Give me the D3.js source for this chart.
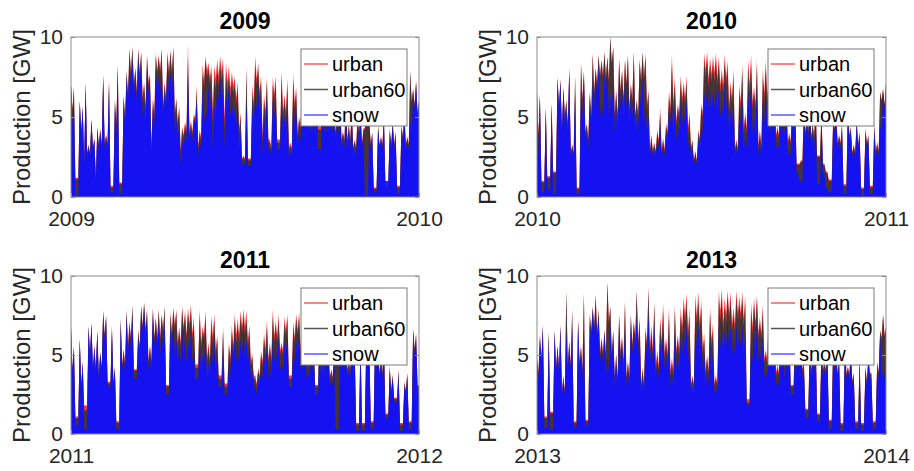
<!DOCTYPE html>
<html lang="en">
<head>
<meta charset="utf-8">
<title>Production per year</title>
<script src="https://d3js.org/d3.v7.min.js"></script>
<style>
  body { margin: 0; background: #fff; }
  svg text { font-family: Arial, "Liberation Sans", Helvetica, sans-serif; }
</style>
</head>
<body>
<script>
// values, ~3 days per value, GW
// peaks per series, plus the bottom of the gaps between the snow peaks for each year
var yTicks = [0, 5, 10];
var seriesNames = ["urban", "urban60", "snow"];

var urban09 = [7.0,6.9,1.2,6.0,5.7,7.1,3.3,4.9,3.7,4.4, 4.3,7.7,3.9,7.3,0.7,6.1,8.3,0.9,6.4,7.9,
  9.3,9.4,8.1,9.3,9.1,7.2,8.9,7.7,6.2,9.0, 8.9,9.3,7.2,9.1,9.2,9.4,6.2,5.7,4.4,4.7,
  9.6,4.8,5.2,7.0,4.2,8.3,8.8,8.4,8.2,8.2, 8.6,8.8,8.7,8.4,8.2,7.8,7.5,7.2,5.3,2.6,
  8.2,2.4,7.0,8.8,8.4,7.6,6.4,7.5,3.6,7.5, 7.6,3.6,7.9,6.4,7.4,3.4,7.7,6.9,5.0,7.4,
  6.8,7.3,5.4,7.3,6.0,4.4,7.1,5.7,7.0,6.3, 5.6,5.1,6.6,4.1,6.1,4.6,5.6,3.6,5.1,5.6,
  4.3,6.1,4.8,4.1,0.6,4.5,3.8,5.1,0.7,4.3, 4.8,4.1,0.7,4.5,5.3,3.8,7.9,6.8,7.3,6.1];
var urban60_09 = [7.0,6.8,1.1,6.0,5.6,7.1,3.2,4.8,3.6,4.3, 4.2,7.6,3.8,7.2,0.6,6.0,8.2,0.8,6.3,7.8,
  9.2,9.3,8.0,9.2,9.0,7.0,8.7,7.5,6.0,8.8, 8.7,9.2,7.0,8.9,9.0,9.3,6.0,5.5,4.2,4.5,
  8.8,4.6,5.0,6.6,4.0,7.8,8.6,8.0,7.8,7.5, 8.0,8.3,8.1,7.8,7.5,7.2,7.0,6.8,5.0,2.5,
  7.8,2.3,6.5,8.2,8.0,7.2,6.0,7.2,3.4,7.0, 7.2,3.4,7.5,6.0,7.0,3.2,7.3,6.5,4.8,7.0,
  6.5,7.0,5.2,7.0,5.8,4.2,6.8,5.5,6.8,6.0, 5.5,5.0,6.5,4.0,6.0,4.5,5.5,3.5,5.0,5.5,
  4.2,6.0,4.7,4.0,0.5,4.4,3.7,5.0,0.6,4.2, 4.7,4.0,0.6,4.4,5.2,3.7,7.8,6.7,7.2,6.0];
var snow09 = [7.0,5.9,0.1,6.0,5.6,7.1,3.0,4.8,3.6,4.3, 4.0,7.4,3.5,7.0,0.3,5.5,8.0,0.2,6.0,7.5,
  8.5,8.6,7.5,8.7,8.3,6.0,8.0,7.0,5.5,8.0, 7.5,8.0,6.5,8.3,7.8,8.0,5.0,4.5,3.5,4.0,
  7.7,4.2,4.8,6.0,3.5,6.8,5.5,7.0,6.2,5.8, 7.0,7.5,6.8,6.5,7.0,6.0,5.5,5.8,4.0,2.2,
  6.0,2.0,5.5,6.5,7.0,6.0,5.0,6.2,3.0,6.0, 6.0,3.0,6.5,5.0,5.8,2.8,6.2,5.5,4.0,6.0,
  5.5,6.0,4.5,6.2,5.0,3.0,5.8,4.8,6.0,5.0, 5.0,4.5,6.0,3.5,5.5,4.0,5.0,3.0,4.5,5.0,
  4.0,0.1,4.5,3.8,0.3,4.2,3.5,4.8,1.0,4.0, 4.5,3.8,0.2,4.2,5.0,3.5,4.8,6.5,7.0,5.8];
var gaps09 = [4.5,0.1,0.1,4.0,2.0,2.5,2.5,3.0,1.0,3.0, 3.0,3.0,3.0,0.3,0.3,4.0,0.2,0.2,4.5,6.0,
  7.0,6.5,6.0,7.0,5.0,4.5,6.5,2.5,4.5,6.5, 6.5,5.0,5.5,6.5,6.5,4.0,3.5,2.0,3.0,3.5,
  3.5,3.5,4.5,2.5,3.0,4.5,5.0,5.5,3.0,5.0, 6.0,6.0,3.0,5.5,5.0,5.0,4.5,3.0,2.0,2.0,
  2.0,2.0,4.5,5.5,5.0,2.5,4.0,3.0,2.5,5.0, 3.0,3.0,4.0,4.0,2.5,2.5,4.5,3.0,3.5,4.5,
  4.5,4.0,4.0,4.5,3.0,3.0,4.0,4.0,4.0,4.0, 3.5,4.0,3.0,3.0,3.0,3.0,2.5,2.5,3.5,3.0,
  0.1,0.1,3.0,0.3,0.3,3.0,3.0,1.0,1.0,3.0, 3.0,0.2,0.2,3.5,3.0,3.0,4.0,5.5,5.0,5.0];

var urban10 = [6.7,6.4,1.0,5.6,1.3,5.9,1.6,7.5,7.4,6.9, 6.1,8.1,3.3,7.6,0.6,8.4,7.9,4.6,6.6,9.0,
  8.1,8.9,8.6,9.1,8.8,10.0,9.4,6.7,8.7,8.0, 8.6,8.9,7.1,9.1,6.1,8.6,9.1,9.0,6.7,3.9,
  3.4,4.2,5.6,3.7,4.6,6.6,8.9,7.5,5.8,7.6, 7.2,7.6,5.3,3.6,2.9,4.2,5.8,9.0,9.1,8.7,
  8.8,9.0,8.8,8.0,8.9,8.5,7.2,8.0,3.6,7.0, 8.3,5.3,8.6,8.9,6.9,8.6,4.2,8.0,8.5,7.4,
  6.8,7.3,4.4,7.1,5.4,7.3,4.0,6.2,6.4,2.1, 2.3,5.6,5.1,6.6,4.6,5.9,2.6,5.3,2.1,1.6,
  1.1,5.1,5.4,3.9,4.6,0.8,5.6,4.4,3.3,4.9, 4.1,0.6,4.3,3.9,0.7,4.6,3.4,6.6,6.8,7.2];
var urban60_10 = [6.6,6.3,0.9,5.5,1.2,5.8,1.5,7.4,7.3,6.8, 6.0,8.0,3.2,7.5,0.5,8.3,7.8,4.5,6.5,8.9,
  8.0,8.8,8.5,9.0,8.7,10.0,9.3,6.5,8.5,7.8, 8.5,8.8,7.0,9.0,6.0,8.5,9.0,8.8,6.5,3.8,
  3.3,4.0,5.2,3.5,4.4,6.2,8.3,7.0,5.5,7.2, 6.8,7.2,5.0,3.5,2.8,4.0,5.5,8.5,8.6,8.2,
  8.2,8.5,8.3,7.5,8.4,8.0,6.8,7.5,3.4,6.5, 7.8,5.0,8.0,8.3,6.5,8.2,4.0,7.5,8.0,7.0,
  6.5,7.0,4.2,6.8,5.2,7.0,3.8,6.0,6.2,2.0, 2.2,5.5,5.0,6.5,4.5,5.8,2.5,5.2,2.0,1.5,
  1.0,5.0,5.3,3.8,4.5,0.7,5.5,4.3,3.2,4.8, 4.0,0.5,4.2,3.8,0.6,4.5,3.3,6.5,6.7,7.1];
var snow10 = [5.0,6.3,0.3,5.5,0.5,5.8,0.2,7.4,7.2,6.8, 5.5,7.8,3.0,6.5,0.2,6.8,7.5,4.0,6.0,7.0,
  7.5,8.3,6.0,7.8,8.0,6.5,7.0,5.5,7.5,6.8, 7.0,7.5,6.0,7.2,5.0,6.8,7.4,6.0,5.0,3.5,
  3.0,3.6,4.5,3.2,4.0,5.5,6.0,5.5,4.5,6.0, 5.5,6.0,4.0,3.0,2.6,3.5,4.5,6.5,7.0,6.8,
  6.5,7.0,6.8,6.0,7.0,6.5,5.5,6.0,3.0,5.5, 6.0,4.0,6.5,7.0,5.0,6.8,3.5,6.0,6.5,5.5,
  5.5,6.0,3.5,5.8,4.5,6.0,3.0,5.0,5.5,1.5, 1.0,5.0,4.5,6.0,3.8,5.2,0.8,4.8,1.5,0.6,
  0.3,4.8,5.0,3.5,4.2,0.2,5.2,4.0,3.0,4.5, 3.8,0.1,4.0,3.5,0.2,4.2,3.0,4.5,6.5,7.0];
var gaps10 = [2.5,0.3,0.3,0.5,0.5,0.2,0.2,5.5,4.0,4.5, 4.0,2.5,2.5,0.2,0.2,5.0,3.5,3.0,4.5,5.5,
  6.5,5.0,5.0,6.5,5.0,5.5,4.0,4.0,5.5,5.0, 5.5,4.5,5.0,4.0,4.0,5.5,4.5,4.0,2.5,2.5,
  2.5,3.0,2.5,2.5,3.5,4.5,4.0,3.5,4.0,4.5, 4.5,3.0,2.5,2.0,2.0,3.0,4.0,5.5,5.5,5.5,
  5.5,5.5,5.0,5.0,5.5,4.0,4.5,2.5,2.5,4.5, 3.0,3.0,5.0,4.0,4.0,2.5,2.5,4.5,4.5,4.0,
  4.5,3.0,3.0,4.0,4.0,2.5,2.5,4.0,1.5,1.0, 1.0,3.5,3.5,3.0,3.0,0.8,0.8,1.5,0.6,0.3,
  0.3,4.0,3.0,3.0,0.2,0.2,3.5,2.5,2.5,3.0, 0.1,0.1,3.0,0.2,0.2,2.5,2.5,4.0,5.5,5.5];

var urban11 = [6.8,5.5,1.1,6.0,4.6,1.8,6.8,7.0,5.6,6.5, 5.2,7.8,7.5,3.3,6.8,4.3,0.8,7.3,5.4,7.8,
  7.1,8.1,4.1,6.6,8.1,8.3,7.9,5.6,8.0,7.4, 7.9,7.6,8.1,3.1,7.7,8.0,7.9,6.8,8.1,7.8,
  8.0,8.2,7.4,4.4,7.9,6.8,7.8,5.8,7.5,7.6, 6.3,3.7,6.8,3.2,5.8,6.9,7.6,7.3,7.8,7.9,
  7.8,6.9,5.1,3.7,4.2,5.3,6.4,7.2,5.8,7.9, 7.2,7.6,5.8,7.4,7.6,3.7,7.1,7.6,7.7,6.5,
  6.8,5.0,7.3,6.0,3.1,7.1,5.4,7.3,6.0,4.1, 5.6,4.9,6.1,5.3,6.3,4.6,6.6,5.5,0.7,6.1,
  0.7,6.1,5.9,0.8,6.3,5.4,4.9,5.9,1.3,4.3, 3.8,2.3,4.1,0.7,3.3,3.9,0.8,6.7,6.4,3.1];
var urban60_11 = [6.8,5.5,1.0,6.0,4.5,1.5,6.8,7.0,5.5,6.5, 5.2,7.8,7.5,3.2,6.8,4.2,0.7,7.3,5.3,7.8,
  7.0,8.1,4.0,6.5,8.1,8.3,7.8,5.5,7.9,7.3, 7.8,7.5,8.0,3.0,7.6,7.9,7.7,6.5,7.9,7.5,
  7.6,7.8,7.0,4.2,7.5,6.5,7.4,5.5,7.0,7.2, 6.0,3.5,6.5,3.0,5.5,6.5,7.2,6.8,7.4,7.4,
  7.3,6.5,4.8,3.5,4.0,5.0,6.0,6.8,5.5,7.4, 6.8,7.2,5.5,7.0,7.3,3.5,6.8,7.3,7.4,6.2,
  6.5,4.8,7.0,5.8,3.0,6.8,5.2,7.0,5.8,4.0, 5.5,4.8,6.0,5.2,6.2,4.5,6.5,5.4,0.6,6.0,
  0.6,6.0,5.8,0.7,6.2,5.3,4.8,5.8,1.2,4.2, 3.7,2.2,4.0,0.6,3.2,3.8,0.7,6.6,6.3,3.0];
var snow11 = [6.8,5.5,0.5,6.0,4.5,0.3,6.8,7.0,5.5,6.5, 5.0,7.5,7.3,3.0,6.5,4.0,0.3,7.0,5.0,7.5,
  6.5,7.6,3.5,6.0,7.8,8.0,7.2,5.0,7.5,6.8, 7.0,6.5,7.2,2.5,6.8,7.0,6.0,5.5,6.8,6.0,
  6.0,6.5,5.5,3.5,6.0,5.0,6.2,4.5,5.8,6.0, 5.0,3.0,5.5,2.5,4.5,5.8,6.2,5.5,6.0,6.5,
  6.0,5.5,4.0,3.0,3.5,4.2,5.0,5.5,4.5,6.0, 5.5,6.0,4.5,5.8,6.2,3.0,5.5,6.0,6.2,5.0,
  5.5,4.0,6.0,5.0,2.5,5.8,4.5,6.0,5.0,3.5, 5.0,0.3,5.5,4.8,5.8,4.0,6.0,5.0,0.2,5.5,
  0.2,5.8,5.5,0.3,6.0,5.0,4.5,5.5,1.0,4.0, 3.5,2.0,3.8,0.2,3.0,3.6,0.3,6.5,6.0,2.5];
var gaps11 = [4.0,0.5,0.5,3.0,0.3,0.3,5.0,4.0,4.0,3.5, 4.0,6.0,3.0,3.0,3.0,0.3,0.3,4.0,4.0,5.0,
  5.5,3.5,3.5,5.0,6.5,6.0,4.0,4.0,5.5,5.5, 5.0,5.5,2.5,2.5,5.5,5.0,4.5,4.5,5.0,4.5,
  5.0,4.5,3.5,3.5,4.0,4.5,3.5,3.5,4.5,4.0, 3.0,3.0,2.5,2.5,3.5,4.5,4.5,4.5,5.0,5.0,
  4.5,3.5,3.0,2.5,3.0,3.5,4.0,3.5,3.5,4.5, 4.5,4.0,4.0,5.0,3.0,3.0,4.5,5.0,4.0,4.0,
  3.5,3.5,4.0,2.5,2.5,3.5,3.5,4.0,3.0,3.0, 0.3,0.3,4.0,4.0,3.5,3.5,4.0,0.2,0.2,0.2,
  0.2,4.5,0.3,0.3,4.0,3.5,3.5,1.0,1.0,2.5, 2.0,2.0,0.2,0.2,2.5,0.3,0.3,5.0,2.5,2.5];

var urban13 = [4.9,6.3,6.9,1.1,6.5,1.4,6.6,5.6,6.9,3.7, 9.0,5.9,7.9,0.8,7.3,5.6,8.9,0.9,7.6,8.1,
  8.8,7.9,6.1,6.6,9.6,8.1,6.6,5.1,7.6,6.2, 8.4,4.6,7.6,7.2,9.0,7.4,4.2,6.8,9.2,6.9,
  8.4,5.3,7.4,8.3,6.1,8.0,4.8,8.2,6.3,8.0, 8.6,8.9,8.0,3.7,8.8,9.0,8.5,6.4,5.0,8.0,
  7.0,3.7,9.1,9.2,8.6,9.1,9.0,8.0,9.1,8.7, 9.0,8.8,2.2,8.3,8.6,8.8,7.4,8.2,5.3,7.9,
  7.3,6.8,4.4,7.3,6.2,5.7,7.5,3.1,6.8,6.2, 6.1,4.6,1.6,5.6,5.1,6.3,1.3,5.6,4.6,5.7,
  0.9,5.9,5.3,4.9,0.7,6.1,4.3,5.4,3.9,0.8, 4.9,0.7,4.3,5.1,3.9,0.8,4.6,6.6,7.6,6.8];
var urban60_13 = [4.8,6.2,6.8,1.0,6.4,1.3,6.5,5.5,6.8,3.6, 9.0,5.8,7.8,0.7,7.2,5.5,8.9,0.8,7.5,8.0,
  8.8,7.8,6.0,6.5,9.6,8.0,6.5,5.0,7.5,6.0, 8.3,4.5,7.5,7.0,9.0,7.2,4.0,6.5,9.2,6.5,
  8.0,5.0,7.0,7.8,5.8,7.5,4.5,7.8,6.0,7.5, 8.0,8.3,7.5,3.5,8.2,8.4,8.0,6.0,4.8,7.5,
  6.5,3.5,8.5,8.6,8.0,8.7,8.5,7.5,8.6,8.2, 8.5,8.3,2.0,7.8,8.2,8.5,7.0,7.8,5.0,7.5,
  7.0,6.5,4.2,7.0,6.0,5.5,7.2,3.0,6.5,6.0, 6.0,4.5,1.5,5.5,5.0,6.2,1.2,5.5,4.5,5.6,
  0.8,5.8,5.2,4.8,0.6,6.0,4.2,5.3,3.8,0.7, 4.8,0.6,4.2,5.0,3.8,0.7,4.5,6.5,7.5,6.7];
var snow13 = [4.5,6.0,6.8,0.4,6.3,0.3,6.5,5.5,6.8,3.5, 6.5,5.5,6.8,0.4,7.0,5.0,6.5,0.5,7.0,7.8,
  7.8,7.5,5.5,6.5,5.0,7.0,6.0,4.5,6.8,5.5, 6.5,4.0,7.0,6.5,7.3,6.5,3.5,6.0,7.5,6.0,
  6.8,4.5,6.0,6.5,5.0,6.0,3.8,6.5,5.0,6.2, 6.5,7.0,6.0,3.0,6.8,7.0,6.5,5.0,4.0,6.0,
  5.0,3.0,6.8,7.0,6.5,7.2,6.8,6.0,7.0,6.5, 6.8,6.5,1.8,6.0,6.5,7.0,5.5,6.2,4.0,6.0,
  6.0,5.5,3.5,6.0,5.0,4.8,6.2,2.5,5.5,5.0, 5.5,4.0,1.0,5.0,4.5,5.8,0.8,5.0,4.0,5.2,
  0.3,5.5,5.0,4.5,0.2,5.8,4.0,5.0,3.5,0.3, 4.5,0.2,4.0,4.8,3.5,0.3,4.2,6.3,4.0,6.5];
var gaps13 = [3.5,4.5,0.4,0.4,0.3,0.3,4.0,4.0,2.5,2.5, 4.0,4.0,0.4,0.4,4.0,3.5,0.5,0.5,6.0,6.5,
  6.0,4.5,4.5,3.5,4.0,4.5,3.0,3.0,4.5,4.0, 3.0,3.0,5.0,5.5,5.0,2.5,2.5,5.0,4.5,4.5,
  3.5,3.5,4.5,4.0,4.0,3.0,3.0,4.0,4.0,5.0, 5.5,4.5,2.5,2.5,5.5,5.0,4.0,3.0,3.0,4.0,
  2.5,2.5,5.5,5.0,5.5,5.5,5.0,5.0,5.5,5.5, 5.0,1.8,1.8,4.5,5.0,4.5,4.5,3.5,3.5,4.5,
  4.0,3.0,3.0,4.0,3.5,4.0,2.5,2.5,4.0,4.0, 3.5,1.0,1.0,3.5,4.0,0.8,0.8,3.5,3.5,0.3,
  0.3,4.0,3.5,0.2,0.2,3.5,3.5,3.0,0.3,0.3, 0.2,0.2,3.0,3.5,0.3,0.3,3.5,3.5,3.5,5.0];

var panels = [
  { year: 2009, urban: urban09, urban60: urban60_09, snow: snow09, gaps: gaps09, left: 71, right: 419, top: 37, bottom: 197 },
  { year: 2010, urban: urban10, urban60: urban60_10, snow: snow10, gaps: gaps10, left: 537, right: 886, top: 37, bottom: 197 },
  { year: 2011, urban: urban11, urban60: urban60_11, snow: snow11, gaps: gaps11, left: 71, right: 419, top: 276, bottom: 434 },
  { year: 2013, urban: urban13, urban60: urban60_13, snow: snow13, gaps: gaps13, left: 537, right: 886, top: 276, bottom: 434 }
];

var colors = { urban: "#ff2020", urban60: "#333333", snow: "#1010ff" };
var fillOpacity = { urban: 0.9, urban60: 0.9, snow: 0.93 };
var legendColors = { urban: "#ff5a5a", urban60: "#555555", snow: "#5a5aff" };

var svg = d3.select("body").append("svg")
            .attr("width", 914)
            .attr("height", 471);

panels.forEach(function(p, k) {
  var t0 = new Date(p.year, 0, 1), t1 = new Date(p.year + 1, 0, 1);
  var x = d3.scaleTime().domain([t0, t1]).range([p.left, p.right]);
  var y = d3.scaleLinear().domain([0, 10]).range([p.bottom, p.top]);
  var g = svg.append("g");

  g.append("clipPath").attr("id", "clip" + k)
   .append("rect")
   .attr("x", p.left).attr("y", p.top)
   .attr("width", p.right - p.left).attr("height", p.bottom - p.top);

  var n = p.snow.length;
  var step = (t1 - t0) / (n - 1);
  var area = d3.area()
               .x(function(d) { return x(d.t); })
               .y0(y(0))
               .y1(function(d) { return y(d.v); });

  seriesNames.forEach(function(s) {
    // peak, then a dip between peaks as deep as the dip of the snow series
    var pts = [];
    p[s].forEach(function(v, i) {
      pts.push({ t: new Date(+t0 + step * i), v: v });
      if (i < n - 1) {
        var lowSnow = Math.min(p.snow[i], p.snow[i + 1]);
        var depth = lowSnow - Math.min(p.gaps[i], lowSnow);
        var low = Math.max(0, Math.min(v, p[s][i + 1]) - depth);
        pts.push({ t: new Date(+t0 + step * (i + 0.5)), v: low });
      }
    });
    g.append("path")
     .datum(pts)
     .attr("clip-path", "url(#clip" + k + ")")
     .attr("d", area)
     .attr("fill", colors[s])
     .attr("fill-opacity", fillOpacity[s]);
  });

  // box
  g.append("rect")
   .attr("x", p.left).attr("y", p.top)
   .attr("width", p.right - p.left).attr("height", p.bottom - p.top)
   .attr("fill", "none").attr("stroke", "#8c8c8c").attr("stroke-width", 1);

  var yAxis = g.append("g")
               .attr("transform", "translate(" + p.left + ",0)")
               .call(d3.axisLeft(y).tickValues(yTicks).tickSizeInner(-4).tickSizeOuter(0).tickPadding(8));
  var yAxisR = g.append("g")
               .attr("transform", "translate(" + p.right + ",0)")
               .call(d3.axisRight(y).tickValues(yTicks).tickFormat("").tickSizeInner(-4).tickSizeOuter(0));
  var xAxis = g.append("g")
               .attr("transform", "translate(0," + p.bottom + ")")
               .call(d3.axisBottom(x).tickValues([t0, t1]).tickFormat(d3.timeFormat("%Y"))
                       .tickSizeInner(-4).tickSizeOuter(0).tickPadding(14));

  [yAxis, yAxisR, xAxis].forEach(function(a) {
    a.select(".domain").remove();
    a.selectAll("line").attr("stroke", "#8c8c8c");
    a.selectAll("text").attr("font-size", 21).attr("fill", "#262626")
     .attr("font-family", "Arial, 'Liberation Sans', Helvetica, sans-serif");
  });

  g.append("text")
   .attr("transform", "translate(" + (p.left - 41) + "," + ((p.top + p.bottom) / 2) + ") rotate(-90)")
   .attr("text-anchor", "middle")
   .attr("font-size", 24)
   .attr("fill", "#262626")
   .text("Production [GW]");

  g.append("text")
   .attr("x", (p.left + p.right) / 2)
   .attr("y", p.top - 8)
   .attr("text-anchor", "middle")
   .attr("font-size", 23)
   .attr("font-weight", "bold")
   .attr("fill", "#000")
   .text(p.year);

  // legend
  var lg = g.append("g").attr("transform", "translate(" + (p.right - 118) + "," + (p.top + 12) + ")");
  lg.append("rect").attr("width", 106).attr("height", 77)
    .attr("fill", "#fff").attr("stroke", "#7a7a7a").attr("stroke-width", 1);
  seriesNames.forEach(function(s, i) {
    var yy = 15 + i * 25.5;
    lg.append("line").attr("x1", 3).attr("x2", 27).attr("y1", yy).attr("y2", yy)
      .attr("stroke", legendColors[s]).attr("stroke-width", 1.5);
    lg.append("text").attr("x", 31).attr("y", yy).attr("dy", "0.35em")
      .attr("font-size", 20).attr("fill", "#000").text(s);
  });
});
</script>
</body>
</html>
